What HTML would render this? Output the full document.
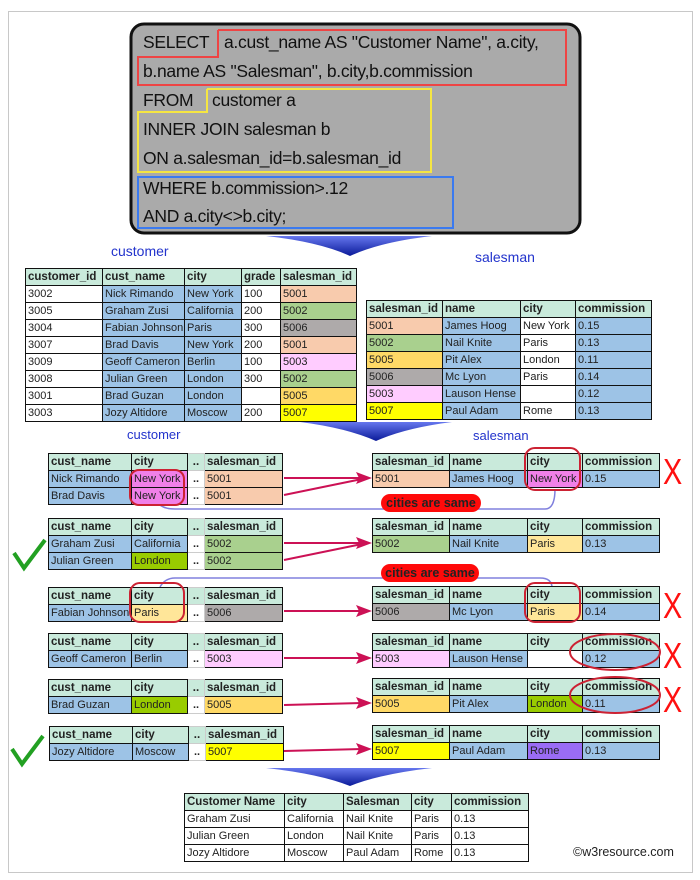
<!DOCTYPE html>
<html><head><meta charset="utf-8"><style>
body{margin:0;width:700px;height:880px;background:#fff;position:relative;overflow:hidden;font-family:"Liberation Sans",Arial,sans-serif}
.pg{position:absolute;left:8px;top:11px;width:683px;height:860px;border:1px solid #c8c8c8}
table{position:absolute;border-collapse:collapse;table-layout:fixed;font-size:11px;color:#222}
td{border:1px solid #111;height:16px;padding:0 2px;white-space:nowrap;overflow:hidden;line-height:15px}
tr.h td{background:#c9eadb;font-weight:bold;font-size:11.5px}
.b{background:#9dc3e6}.pe{background:#f8cbad}.gr{background:#a9d08e}.gy{background:#aeaaaa}.pk{background:#ffccff}.or{background:#ffd966}.ye{background:#ffff00}
.mg{background:#f080e8}.pa{background:#ffe699}.lg{background:#99cc00}.pu{background:#9a6cf5}
td.d{background:#fff;border-color:#ccc;font-weight:bold;text-align:center;padding:0}
.lbl{position:absolute;color:#2233cc;font-size:14px}
.sql{position:absolute;font-size:17.5px;color:#111;font-family:"Liberation Sans",sans-serif;letter-spacing:-0.3px}
.pill{position:absolute;background:#ff0a0a;color:#222;font-weight:bold;font-size:12.5px;border-radius:9px;text-align:center;height:18px;line-height:18px}
.x{position:absolute;color:#ff1010;font-size:36px;font-family:"Liberation Sans",sans-serif;line-height:36px;transform:scaleX(0.8);transform-origin:left top}
</style></head><body>
<div class="pg"></div>

<svg width="700" height="880" style="position:absolute;left:0;top:0">
<defs><linearGradient id="sw" x1="0" y1="0" x2="0" y2="1"><stop offset="0" stop-color="#6677ee"/><stop offset="1" stop-color="#0a1a99"/></linearGradient></defs>
<rect x="131" y="24" width="449" height="209" rx="13" fill="#aaaaaa" stroke="#111" stroke-width="3"/>
<polyline points="218,30 566,30 566,85 138,85 138,57 218,57 218,30" fill="none" stroke="#ee4444" stroke-width="2"/>
<polyline points="207,89 431,89 431,172 138,172 138,112 207,112 207,89" fill="none" stroke="#f5e642" stroke-width="2"/>
<rect x="138" y="177" width="315" height="51" fill="none" stroke="#3a7af0" stroke-width="2"/>
<path d="M266,236 L432,236 Q380,242 350,256 Q320,242 266,236Z" fill="url(#sw)"/>
<path d="M300,422 L452,422 Q405,428 376,441 Q347,428 300,422Z" fill="url(#sw)"/>
<path d="M266,768 L432,768 Q380,774 350,786 Q320,774 266,768Z" fill="url(#sw)"/>
<path d="M160,505 Q165,509 175,509 L545,509 Q555,509 555,489" fill="none" stroke="#8080dd" stroke-width="1.5"/>
<path d="M160,587 Q165,578 175,578 L540,578 Q552,578 552,588" fill="none" stroke="#8080dd" stroke-width="1.5"/>
<g stroke="#cc1155" stroke-width="2" fill="none">
<path d="M284,478 L362,478 M284,495 L362,479"/>
<path d="M284,543 L362,543 M284,560 L362,544"/>
<path d="M284,611 L362,611"/>
<path d="M284,658 L362,658"/>
<path d="M284,705 L362,703"/>
<path d="M284,751 L362,749"/>
</g>
<g fill="#cc1155">
<path d="M372,478 L356,472 L359,478 L356,484Z"/>
<path d="M372,543 L356,537 L359,543 L356,549Z"/>
<path d="M372,611 L356,605 L359,611 L356,617Z"/>
<path d="M372,658 L356,652 L359,658 L356,664Z"/>
<path d="M372,703 L356,697 L359,703 L356,709Z"/>
<path d="M372,749 L356,743 L359,749 L356,755Z"/>
</g>
<path d="M14,553 L24,568 L45,540" fill="none" stroke="#22a022" stroke-width="4"/>
<path d="M12,749 L22,764 L43,736" fill="none" stroke="#22a022" stroke-width="4"/>
</svg>

<div class="sql" style="left:143px;top:32px">SELECT</div>
<div class="sql" style="left:224px;top:32px">a.cust_name AS "Customer Name", a.city,</div>
<div class="sql" style="left:143px;top:61px">b.name AS "Salesman", b.city,b.commission</div>
<div class="sql" style="left:143px;top:90px">FROM</div>
<div class="sql" style="left:212px;top:90px">customer a</div>
<div class="sql" style="left:143px;top:119px">INNER JOIN salesman b</div>
<div class="sql" style="left:143px;top:148px">ON a.salesman_id=b.salesman_id</div>
<div class="sql" style="left:143px;top:178px">WHERE b.commission&gt;.12</div>
<div class="sql" style="left:143px;top:206px">AND a.city&lt;&gt;b.city;</div>

<div class="lbl" style="left:111px;top:243px">customer</div>
<div class="lbl" style="left:475px;top:249px">salesman</div>
<div class="lbl" style="left:127px;top:427px;font-size:13px">customer</div>
<div class="lbl" style="left:473px;top:428px;font-size:13px">salesman</div>

<table style="left:25px;top:268px;width:331px">
<col style="width:77px"><col style="width:82px"><col style="width:57px"><col style="width:39px"><col style="width:76px">
<tr class="h"><td>customer_id</td><td>cust_name</td><td>city</td><td>grade</td><td>salesman_id</td></tr>
<tr><td>3002</td><td class="b">Nick Rimando</td><td class="b">New York</td><td>100</td><td class="pe">5001</td></tr>
<tr><td>3005</td><td class="b">Graham Zusi</td><td class="b">California</td><td>200</td><td class="gr">5002</td></tr>
<tr><td>3004</td><td class="b">Fabian Johnson</td><td class="b">Paris</td><td>300</td><td class="gy">5006</td></tr>
<tr><td>3007</td><td class="b">Brad Davis</td><td class="b">New York</td><td>200</td><td class="pe">5001</td></tr>
<tr><td>3009</td><td class="b">Geoff Cameron</td><td class="b">Berlin</td><td>100</td><td class="pk">5003</td></tr>
<tr><td>3008</td><td class="b">Julian Green</td><td class="b">London</td><td>300</td><td class="gr">5002</td></tr>
<tr><td>3001</td><td class="b">Brad Guzan</td><td class="b">London</td><td></td><td class="or">5005</td></tr>
<tr><td>3003</td><td class="b">Jozy Altidore</td><td class="b">Moscow</td><td>200</td><td class="ye">5007</td></tr>
</table>

<table style="left:366px;top:300px;width:285px">
<col style="width:76px"><col style="width:78px"><col style="width:55px"><col style="width:76px">
<tr class="h"><td>salesman_id</td><td>name</td><td>city</td><td>commission</td></tr>
<tr><td class="pe">5001</td><td class="b">James Hoog</td><td>New York</td><td class="b">0.15</td></tr>
<tr><td class="gr">5002</td><td class="b">Nail Knite</td><td>Paris</td><td class="b">0.13</td></tr>
<tr><td class="or">5005</td><td class="b">Pit Alex</td><td>London</td><td class="b">0.11</td></tr>
<tr><td class="gy">5006</td><td class="b">Mc Lyon</td><td>Paris</td><td class="b">0.14</td></tr>
<tr><td class="pk">5003</td><td class="b">Lauson Hense</td><td></td><td class="b">0.12</td></tr>
<tr><td class="ye">5007</td><td class="b">Paul Adam</td><td>Rome</td><td class="b">0.13</td></tr>
</table>

<table style="left:48px;top:453px;width:234px">
<col style="width:83px"><col style="width:56px"><col style="width:17px"><col style="width:78px">
<tr class="h"><td>cust_name</td><td>city</td><td class="d">..</td><td>salesman_id</td></tr>
<tr><td class="b">Nick Rimando</td><td class="mg">New York</td><td class="d">..</td><td class="pe">5001</td></tr>
<tr><td class="b">Brad Davis</td><td class="mg">New York</td><td class="d">..</td><td class="pe">5001</td></tr>
</table>
<table style="left:48px;top:518px;width:234px">
<col style="width:83px"><col style="width:56px"><col style="width:17px"><col style="width:78px">
<tr class="h"><td>cust_name</td><td>city</td><td class="d">..</td><td>salesman_id</td></tr>
<tr><td class="b">Graham Zusi</td><td class="b">California</td><td class="d">..</td><td class="gr">5002</td></tr>
<tr><td class="b">Julian Green</td><td class="lg">London</td><td class="d">..</td><td class="gr">5002</td></tr>
</table>
<table style="left:48px;top:587px;width:234px">
<col style="width:83px"><col style="width:56px"><col style="width:17px"><col style="width:78px">
<tr class="h"><td>cust_name</td><td>city</td><td class="d">..</td><td>salesman_id</td></tr>
<tr><td class="b">Fabian Johnson</td><td class="pa">Paris</td><td class="d">..</td><td class="gy">5006</td></tr>
</table>
<table style="left:48px;top:633px;width:234px">
<col style="width:83px"><col style="width:56px"><col style="width:17px"><col style="width:78px">
<tr class="h"><td>cust_name</td><td>city</td><td class="d">..</td><td>salesman_id</td></tr>
<tr><td class="b">Geoff Cameron</td><td class="b">Berlin</td><td class="d">..</td><td class="pk">5003</td></tr>
</table>
<table style="left:48px;top:679px;width:234px">
<col style="width:83px"><col style="width:56px"><col style="width:17px"><col style="width:78px">
<tr class="h"><td>cust_name</td><td>city</td><td class="d">..</td><td>salesman_id</td></tr>
<tr><td class="b">Brad Guzan</td><td class="lg">London</td><td class="d">..</td><td class="or">5005</td></tr>
</table>
<table style="left:49px;top:726px;width:234px">
<col style="width:83px"><col style="width:56px"><col style="width:17px"><col style="width:78px">
<tr class="h"><td>cust_name</td><td>city</td><td class="d">..</td><td>salesman_id</td></tr>
<tr><td class="b">Jozy Altidore</td><td class="b">Moscow</td><td class="d">..</td><td class="ye">5007</td></tr>
</table>

<table style="left:372px;top:453px;width:287px">
<col style="width:77px"><col style="width:78px"><col style="width:55px"><col style="width:77px">
<tr class="h"><td>salesman_id</td><td>name</td><td>city</td><td>commission</td></tr>
<tr><td class="pe">5001</td><td class="b">James Hoog</td><td class="mg">New York</td><td class="b">0.15</td></tr>
</table>
<table style="left:372px;top:518px;width:287px">
<col style="width:77px"><col style="width:78px"><col style="width:55px"><col style="width:77px">
<tr class="h"><td>salesman_id</td><td>name</td><td>city</td><td>commission</td></tr>
<tr><td class="gr">5002</td><td class="b">Nail Knite</td><td class="pa">Paris</td><td class="b">0.13</td></tr>
</table>
<table style="left:372px;top:586px;width:287px">
<col style="width:77px"><col style="width:78px"><col style="width:55px"><col style="width:77px">
<tr class="h"><td>salesman_id</td><td>name</td><td>city</td><td>commission</td></tr>
<tr><td class="gy">5006</td><td class="b">Mc Lyon</td><td class="pa">Paris</td><td class="b">0.14</td></tr>
</table>
<table style="left:372px;top:633px;width:287px">
<col style="width:77px"><col style="width:78px"><col style="width:55px"><col style="width:77px">
<tr class="h"><td>salesman_id</td><td>name</td><td>city</td><td>commission</td></tr>
<tr><td class="pk">5003</td><td class="b">Lauson Hense</td><td></td><td class="b">0.12</td></tr>
</table>
<table style="left:372px;top:678px;width:287px">
<col style="width:77px"><col style="width:78px"><col style="width:55px"><col style="width:77px">
<tr class="h"><td>salesman_id</td><td>name</td><td>city</td><td>commission</td></tr>
<tr><td class="or">5005</td><td class="b">Pit Alex</td><td class="lg">London</td><td class="b">0.11</td></tr>
</table>
<table style="left:372px;top:725px;width:287px">
<col style="width:77px"><col style="width:78px"><col style="width:55px"><col style="width:77px">
<tr class="h"><td>salesman_id</td><td>name</td><td>city</td><td>commission</td></tr>
<tr><td class="ye">5007</td><td class="b">Paul Adam</td><td class="pu">Rome</td><td class="b">0.13</td></tr>
</table>

<table style="left:184px;top:793px;width:344px">
<col style="width:100px"><col style="width:59px"><col style="width:68px"><col style="width:40px"><col style="width:77px">
<tr class="h"><td>Customer Name</td><td>city</td><td>Salesman</td><td>city</td><td>commission</td></tr>
<tr><td>Graham Zusi</td><td>California</td><td>Nail Knite</td><td>Paris</td><td>0.13</td></tr>
<tr><td>Julian Green</td><td>London</td><td>Nail Knite</td><td>Paris</td><td>0.13</td></tr>
<tr><td>Jozy Altidore</td><td>Moscow</td><td>Paul Adam</td><td>Rome</td><td>0.13</td></tr>
</table>
<div style="position:absolute;left:573px;top:845px;font-size:12.5px;color:#222">©w3resource.com</div>

<svg width="700" height="880" style="position:absolute;left:0;top:0">
<g fill="none" stroke="#cc2233" stroke-width="2">
<rect x="130" y="470" width="54" height="35" rx="9"/>
<rect x="525" y="448" width="55" height="42" rx="10"/>
<rect x="130" y="583" width="54" height="39" rx="10"/>
<rect x="525" y="583" width="55" height="39" rx="10"/>
<ellipse cx="615" cy="652" rx="45" ry="18"/>
<ellipse cx="615" cy="695" rx="45" ry="18"/>
</g>
</svg>
<div class="pill" style="left:381px;top:494px;width:100px">cities are same</div>
<div class="pill" style="left:381px;top:564px;width:98px">cities are same</div>
<div class="x" style="left:663px;top:454px">X</div>
<div class="x" style="left:663px;top:588px">X</div>
<div class="x" style="left:663px;top:638px">X</div>
<div class="x" style="left:663px;top:682px">X</div>
</body></html>
